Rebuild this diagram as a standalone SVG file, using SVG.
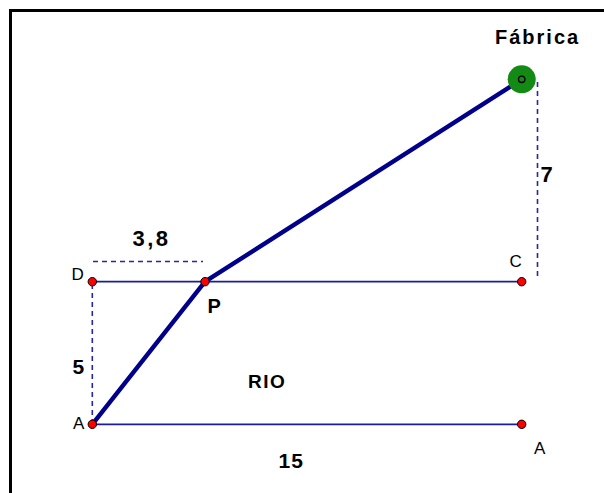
<svg xmlns="http://www.w3.org/2000/svg" width="604" height="493" viewBox="0 0 604 493">
<style>
.thin{stroke:#1c1c9c;stroke-width:1.8;fill:none}
.dash{stroke:#2626a6;stroke-width:1.6;stroke-dasharray:5,4;fill:none}
.path{stroke:#00008a;stroke-width:4.4;fill:none;stroke-linejoin:round;stroke-linecap:round}
.pt{fill:#ff0000;stroke:#000;stroke-width:1}
.lbl{font-family:"Liberation Sans",Arial,sans-serif;font-size:17px;fill:#000}
.b{font-family:"Liberation Sans",Arial,sans-serif;font-weight:bold;fill:#000}
</style>
<rect width="604" height="493" fill="#ffffff"/>
<path d="M10.5,493 V10.5 H604" stroke="#000" stroke-width="3" fill="none"/>
<g id="connectors">
<line class="dash" x1="93" y1="261.5" x2="203" y2="261.5"/>
<line class="dash" x1="92.3" y1="284" x2="92.3" y2="421"/>
<line class="dash" x1="537.5" y1="82" x2="537.5" y2="278"/>
<line class="thin" x1="92.3" y1="281.7" x2="521.7" y2="281.7"/>
<line class="thin" x1="92.3" y1="424.3" x2="521.7" y2="424.3"/>
<polyline class="path" points="92.3,424.3 205,281.7 521.7,79.3"/>
</g>
<g id="fabrica">
<circle cx="521.7" cy="79.3" r="14" fill="#138a13"/>
<circle cx="521.7" cy="79.3" r="3.2" fill="none" stroke="#000" stroke-width="1.4"/>
<text class="b" x="495" y="44" font-size="20" letter-spacing="2">Fábrica</text>
</g>
<g id="D"><circle class="pt" cx="92.3" cy="281.7" r="4.2"/><text class="lbl" x="71.5" y="280">D</text></g>
<g id="P"><circle class="pt" cx="205" cy="281.7" r="4.2"/><text class="b" x="207.5" y="313" font-size="20">P</text></g>
<g id="C"><circle class="pt" cx="521.7" cy="281.7" r="4.2"/><text class="lbl" x="509.5" y="267">C</text></g>
<g id="A1"><circle class="pt" cx="92.3" cy="424.3" r="4.2"/><text class="lbl" x="73" y="429">A</text></g>
<g id="A2"><circle class="pt" cx="521.7" cy="424.3" r="4.2"/><text class="lbl" x="534" y="454">A</text></g>
<g id="labels">
<text class="b" x="132.5" y="246" font-size="22" letter-spacing="2.5">3,8</text>
<text class="b" x="540.5" y="182" font-size="22">7</text>
<text class="b" x="72.5" y="374" font-size="21">5</text>
<text class="b" x="248" y="388" font-size="19" letter-spacing="1.5">RIO</text>
<text class="b" x="278.5" y="468" font-size="21" letter-spacing="1">15</text>
</g>
</svg>
